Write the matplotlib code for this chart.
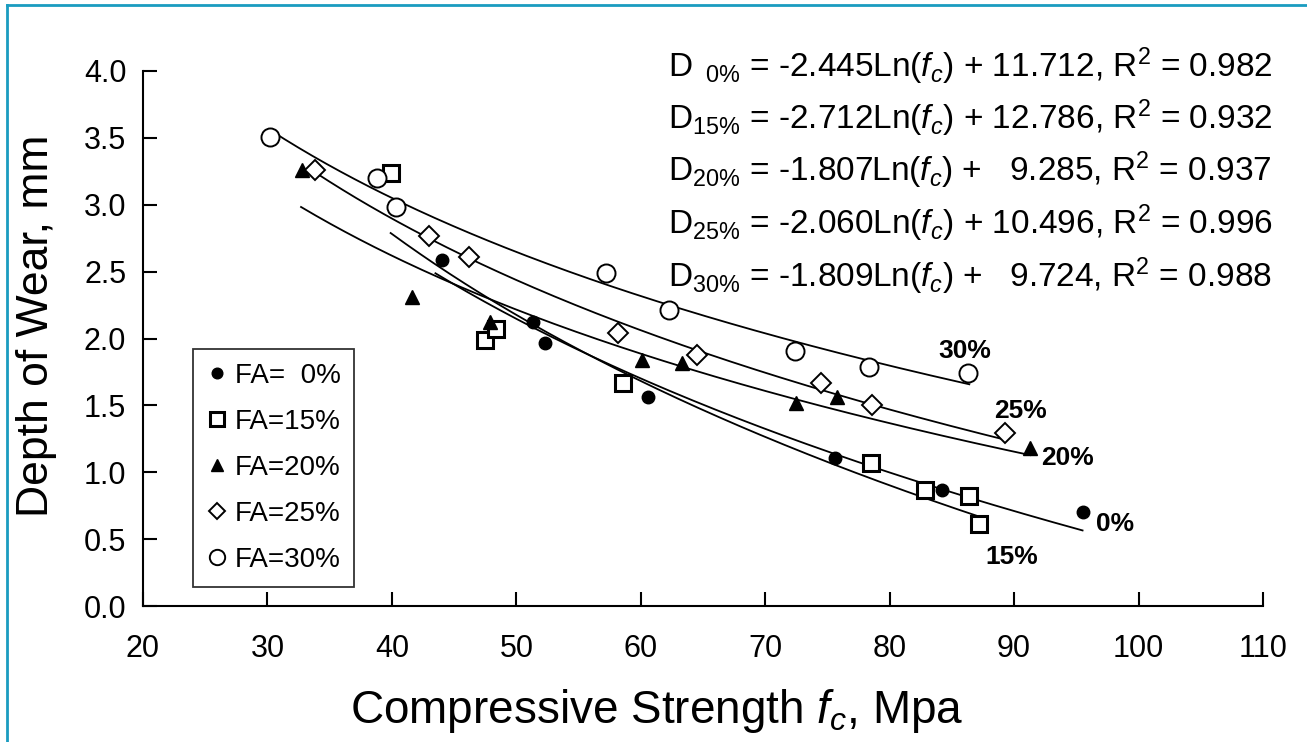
import numpy as np
import matplotlib
matplotlib.use('Agg')
import matplotlib.pyplot as plt
from matplotlib.lines import Line2D

plt.rcParams['font.family'] = ['Liberation Sans', 'DejaVu Sans']
plt.rcParams['mathtext.fontset'] = 'custom'
plt.rcParams['mathtext.rm'] = 'Liberation Sans'
plt.rcParams['mathtext.it'] = 'Liberation Sans:italic'
plt.rcParams['mathtext.bf'] = 'Liberation Sans:bold'

# measured points (compressive strength, depth of wear)
fa0_x = [44.0, 51.3, 52.3, 60.6, 75.6, 84.2, 95.5]
fa0_y = [2.59, 2.12, 1.97, 1.56, 1.11, 0.87, 0.70]
fa15_x = [39.9, 47.5, 48.4, 58.6, 78.5, 82.8, 86.4, 87.2]
fa15_y = [3.24, 1.99, 2.07, 1.67, 1.07, 0.87, 0.82, 0.61]
fa20_x = [32.8, 41.6, 47.9, 60.1, 63.3, 72.5, 75.8, 91.3]
fa20_y = [3.26, 2.31, 2.12, 1.84, 1.82, 1.52, 1.56, 1.18]
fa25_x = [33.8, 43.0, 46.2, 58.2, 64.5, 74.5, 78.6, 89.3]
fa25_y = [3.26, 2.77, 2.61, 2.04, 1.88, 1.67, 1.50, 1.29]
fa30_x = [30.2, 38.8, 40.3, 57.2, 62.3, 72.4, 78.3, 86.3]
fa30_y = [3.51, 3.20, 2.98, 2.49, 2.21, 1.91, 1.79, 1.74]

# fitted trend lines D = a*Ln(fc) + b, as printed on the chart
fa_names = ['0%', '15%', '20%', '25%', '30%']
slopes = [-2.445, -2.712, -1.807, -2.060, -1.809]
intercepts = [11.712, 12.786, 9.285, 10.496, 9.724]
r_squared = [0.982, 0.932, 0.937, 0.996, 0.988]
fit_start = [43.5, 39.9, 32.7, 33.8, 30.2]
fit_end = [95.5, 87.2, 91.3, 89.3, 86.4]

# curve end labels
curve_lbl_x = [98.1, 89.8, 94.3, 90.5, 86.0]
curve_lbl_y = [0.61, 0.37, 1.11, 1.46, 1.91]

W, H = 1307, 742
fig = plt.figure(figsize=(W / 100, H / 100), dpi=100)
ax = fig.add_axes([143 / W, 1 - 606 / H, (1263 - 143) / W, (606 - 71) / H])

for a, b, x0, x1 in zip(slopes, intercepts, fit_start, fit_end):
    xs = np.linspace(x0, x1, 200)
    ax.plot(xs, a * np.log(xs) + b, color='black', lw=1.3, zorder=2)

h0, = ax.plot(fa0_x, fa0_y, 'o', ms=9, mfc='black', mec='black', ls='none', zorder=3)
h15, = ax.plot(fa15_x, fa15_y, 's', ms=12, mfc='white', mec='black', mew=2.2, ls='none', zorder=3)
h20, = ax.plot(fa20_x, fa20_y, '^', ms=10, mfc='black', mec='black', ls='none', zorder=3)
h25, = ax.plot(fa25_x, fa25_y, 'D', ms=10, mfc='white', mec='black', mew=1.4, ls='none', zorder=3)
h30, = ax.plot(fa30_x, fa30_y, 'o', ms=13, mfc='white', mec='black', mew=1.4, ls='none', zorder=3)

for name, lx, ly in zip(fa_names, curve_lbl_x, curve_lbl_y):
    ax.text(lx, ly, name, fontsize=19, fontweight='bold', ha='center', va='center')

ax.set_xlim(20, 110)
ax.set_ylim(0, 4.0)
ax.set_xticks(np.arange(20, 111, 10))
ax.set_yticks(np.arange(0, 4.01, 0.5))
ax.set_yticklabels(['%.1f' % v for v in np.arange(0, 4.01, 0.5)])
ax.tick_params(direction='in', length=10, width=1.5, labelsize=22, pad=12)
ax.tick_params(axis='x', pad=20)
for s in ['top', 'right']:
    ax.spines[s].set_visible(False)
for s in ['left', 'bottom']:
    ax.spines[s].set_linewidth(1.5)

ax.set_xlabel('Compressive Strength $f_c$, Mpa', fontsize=33)
ax.xaxis.set_label_coords(0.459, -0.152)
ax.set_ylabel('Depth of Wear, mm', fontsize=32)
ax.yaxis.set_label_coords(-0.077, 0.523)

leg = ax.legend([h0, h15, h20, h25, h30],
                ['FA=  0%', 'FA=15%', 'FA=20%', 'FA=25%', 'FA=30%'],
                loc='lower left', bbox_to_anchor=(0.0446, 0.0355),
                fontsize=20, frameon=True, fancybox=False, edgecolor='black',
                handlelength=0.7, handletextpad=0.3, labelspacing=0.72,
                borderpad=0.5, borderaxespad=0, markerscale=0.85)
leg.get_frame().set_linewidth(1.3)

# equations block
eq_y = [66, 118, 170, 223, 276]
for name, a, b, r, py in zip(fa_names, slopes, intercepts, r_squared, eq_y):
    sub = r'\ \ 0\%' if name == '0%' else name.replace('%', r'\%')
    pad = '  ' if b < 10 else ''
    txt = 'D$_{%s}$ = %.3fLn($f_c$) + %s%.3f, R$^2$ = %.3f' % (sub, a, pad, b, r)
    fig.text(668 / W, 1 - py / H, txt, fontsize=24, ha='left', va='center')

# teal frame of the original figure
fig.add_artist(Line2D([7 / W, 7 / W], [0, 1 - 5 / H], transform=fig.transFigure, color='#1a9cc0', lw=2))
fig.add_artist(Line2D([7 / W, 1], [1 - 5 / H, 1 - 5 / H], transform=fig.transFigure, color='#1a9cc0', lw=2))

fig.savefig('out.png', dpi=100)
